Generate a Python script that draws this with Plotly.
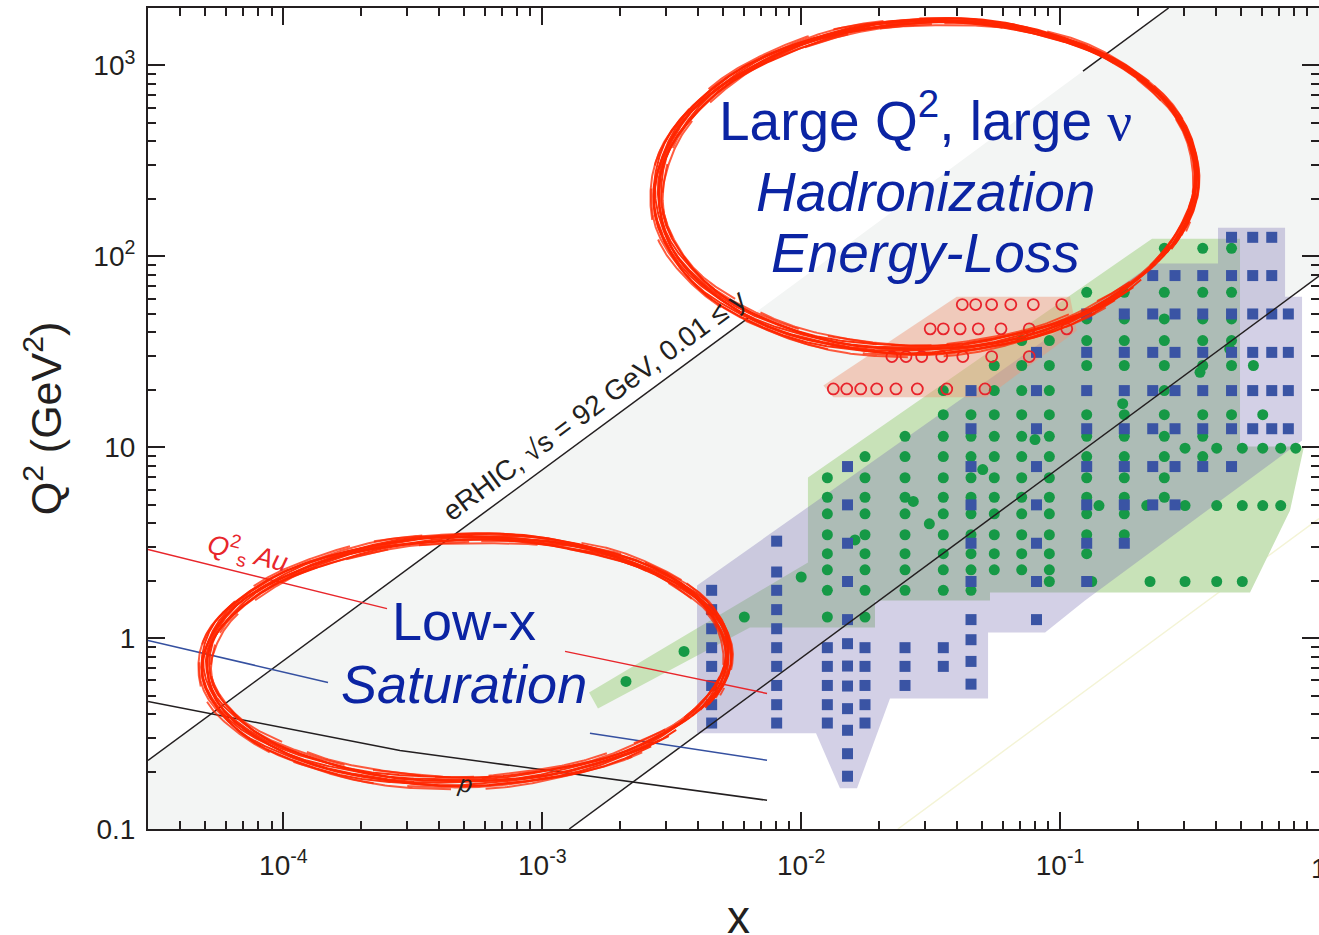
import numpy as np
import plotly.graph_objects as go

FONT = "Liberation Sans, Arial, Helvetica, sans-serif"
AXIS_COLOR = "#231f20"
TEXT_BLUE = "#0b24a3"
BRUSH_RED = "rgb(255,38,0)"

# ---- figure geometry ----
FIG_W, FIG_H = 1319, 935
M_L, M_R, M_T, M_B = 148, 0, 8, 106
X_RANGE = (np.log10(3e-5), 0.0)
Y_RANGE = (-1.0, np.log10(2000.0))
PX_PER_DEC_X = (FIG_W - M_L - M_R) / (X_RANGE[1] - X_RANGE[0])
PX_PER_DEC_Y = (FIG_H - M_T - M_B) / (Y_RANGE[1] - Y_RANGE[0])

# ---- eRHIC kinematic band: Q^2 = x * y * s ----
SQRT_S = 92.0
Y_HI = 0.9
Y_LO = 0.0093
Y_FAINT = 0.0005
X_MIN, X_MAX = 3e-5, 1.0
Q2_MIN, Q2_MAX = 0.1, 2000.0
# stretch of the upper boundary hidden behind the "large Q^2" bubble
X_GAP = (6.23e-3, 0.1226)

# ---- saturation-scale curves ----
QS_AU_X = [3e-5, 1.857e-4, 2.513e-4, None, 1.224e-3, 7.38e-3]
QS_AU_Q2 = [2.913, 1.575, 1.427, None, 0.852, 0.513]
BLUE_X = [3e-5, 1.487e-4, None, 1.528e-3, 7.38e-3]
BLUE_Q2 = [0.972, 0.586, None, 0.317, 0.229]
QS_P_X = [3e-5, 2.82e-4, 7.38e-3]
QS_P_Q2 = [0.466, 0.258, 0.1414]

# ---- blue squares: x bin and the Q^2 values in that bin ----
SQ_X = [0.00451, 0.00804, 0.01262, 0.0151, 0.01764, 0.02518, 0.03539, 0.04528,
        0.08107, 0.1267, 0.177, 0.2279, 0.2779, 0.3556, 0.4594, 0.5546, 0.6569, 0.7613]
SQ_Q2 = [
    [1.78, 1.41, 1.12, 0.891, 0.711, 0.565, 0.448, 0.359],
    [3.22, 2.22, 1.78, 1.41, 1.12, 0.891, 0.711, 0.565, 0.448, 0.359],
    [0.891, 0.711, 0.565, 0.448, 0.359],
    [7.92, 4.99, 3.14, 1.98, 1.25, 0.935, 0.714, 0.561, 0.427, 0.329, 0.248, 0.189],
    [0.891, 0.711, 0.565, 0.448, 0.359],
    [0.891, 0.711, 0.565],
    [0.891, 0.711],
    [19.8, 12.5, 7.92, 4.99, 3.14, 1.98, 1.25, 0.981, 0.755, 0.574],
    [31.4, 19.8, 12.5, 7.92, 4.99, 3.14, 1.98, 1.25],
    [49.9, 31.4, 19.8, 12.5, 7.92, 4.99, 3.14, 1.98],
    [49.9, 31.4, 19.8, 12.5, 7.92, 4.99, 3.14],
    [79.3, 49.9, 31.4, 19.8, 12.5, 7.92, 4.99],
    [79.3, 49.9, 31.4, 19.8, 12.5, 7.92, 4.99],
    [79.3, 49.9, 31.4, 19.8, 12.5, 7.92],
    [125.8, 79.3, 49.9, 31.4, 19.8, 12.5, 7.92],
    [125.8, 79.3, 49.9, 31.4, 19.8, 12.5],
    [125.8, 79.3, 49.9, 31.4, 19.8, 12.5],
    [49.9, 31.4, 19.8, 12.5],
]

# ---- green dots: Q^2 row and the x values in that row ----
DOT_Q2 = [110.1, 64.8, 47.0, 36.2, 32.7, 26.8, 24.7, 19.8, 16.9, 14.8, 11.4, 10.97,
          9.88, 8.94, 7.64, 6.92, 5.47, 5.20, 4.95, 4.48, 3.97, 3.48, 3.27, 2.77,
          2.28, 2.09, 1.98, 1.78, 1.29, 0.852, 0.593]
DOT_X = [
    [0.2527, 0.3556, 0.4594],
    [0.1267, 0.177, 0.2527, 0.3556, 0.4594],
    [0.1267, 0.177, 0.2527, 0.3556, 0.4594],
    [0.07108, 0.09088, 0.1267, 0.177, 0.2527, 0.3556, 0.4594],
    [0.452],
    [0.0557, 0.07108, 0.09088, 0.1267, 0.177, 0.2527, 0.3556, 0.4594, 0.558],
    [0.347],
    [0.03539, 0.0557, 0.07108, 0.09088, 0.2527],
    [0.1745],
    [0.03539, 0.04528, 0.0557, 0.07108, 0.09088, 0.1267, 0.177, 0.2527, 0.3556, 0.4594, 0.6063],
    [0.02518, 0.03539, 0.04528, 0.0557, 0.07108, 0.09088, 0.1267, 0.177, 0.2527, 0.3556],
    [0.08],
    [0.3038, 0.4026, 0.5056, 0.6063, 0.7115, 0.813],
    [0.01764, 0.02518, 0.03539, 0.04528, 0.0557, 0.07108, 0.09088, 0.1267, 0.177, 0.2527, 0.3556],
    [0.05025],
    [0.01262, 0.01764, 0.02518, 0.03539, 0.04528, 0.0557, 0.07108, 0.09088, 0.1267, 0.177, 0.2527],
    [0.01262, 0.01764, 0.02518, 0.03539, 0.04528, 0.0557, 0.07108, 0.09088, 0.1267, 0.177, 0.2527],
    [0.0271],
    [0.1413, 0.2161, 0.3038, 0.4026, 0.5056, 0.6063, 0.7115],
    [0.01262, 0.01764, 0.02518, 0.03539, 0.04528, 0.0557, 0.07108, 0.09088, 0.1267, 0.177],
    [0.03126],
    [0.01262, 0.01764, 0.02518, 0.03539, 0.04528, 0.0557, 0.07108, 0.09088, 0.1267, 0.177],
    [0.01614],
    [0.01262, 0.01764, 0.02518, 0.03539, 0.04528, 0.0557, 0.07108, 0.09088, 0.1267],
    [0.01262, 0.01764, 0.02518, 0.03539, 0.04528, 0.0557, 0.07108, 0.09088],
    [0.01],
    [0.09088, 0.1325, 0.2225, 0.3038, 0.4026, 0.5056],
    [0.01262, 0.01764, 0.02518, 0.03539, 0.04528],
    [0.00603, 0.01262, 0.01764],
    [0.003527],
    [0.002105],
]

# ---- red open circles: Q^2 row and x values ----
CIRC_Q2 = [55.9, 41.7, 29.85, 20.2]
CIRC_X = [
    [0.0419, 0.0472, 0.0544, 0.0645, 0.0788, 0.1015],
    [0.0315, 0.0354, 0.0411, 0.0483, 0.0591, 0.076, 0.1061],
    [0.0224, 0.0254, 0.0292, 0.0349, 0.0421, 0.0544, 0.076],
    [0.01331, 0.01499, 0.01698, 0.01957, 0.02323, 0.02809, 0.03649, 0.05129],
]

# ---- coverage regions ----
PURPLE_X = [3.96e-3, 0.2285, 0.4073, 0.4073, 0.7395, 0.7395, 0.86, 0.86, 0.1248,
            0.0875, 0.0527, 0.0527, 0.02203, 0.01643, 0.01412, 0.01141, 3.96e-3]
PURPLE_Q2 = [1.888, 91.6, 91.6, 141.3, 141.3, 61.5, 61.5, 10.84, 1.576,
             1.071, 1.071, 0.4833, 0.4833, 0.1633, 0.1633, 0.317, 0.317]
GREEN_X = [1.516e-3, 0.01062, 0.01062, 0.2265, 0.4954, 0.4954, 0.875, 0.7727, 0.5415,
           0.0536, 0.0536, 0.01928, 0.01928, 6.34e-3, 1.641e-3]
GREEN_Q2 = [0.5196, 2.49, 6.94, 123.8, 123.8, 10.08, 10.08, 4.66, 1.735,
            1.735, 1.576, 1.576, 1.138, 1.138, 0.4284]
SALMON_X = [0.03988, 0.1092, 0.1159, 0.05207, 0.01331, 0.01218]
SALMON_Q2 = [61.5, 61.5, 40.8, 18.27, 18.27, 21.04]

# ---- highlight bubbles (centre in data units, half sizes in decades) ----
BUBBLE_HI = dict(center=(0.0305, 234.6), half_w=1.041, half_h=0.864, lean=15, base=10.0, swing=5.0)
BUBBLE_LO = dict(center=(5.1e-4, 0.769), half_w=1.010, half_h=0.642, lean=12, base=12.0, swing=3.0)

S = SQRT_S ** 2
c_hi, c_lo, c_faint = Y_HI * S, Y_LO * S, Y_FAINT * S

fig = go.Figure()


def add_line(x, y, color, width=1.5, opacity=1.0):
    fig.add_trace(go.Scatter(x=x, y=y, mode="lines", line=dict(color=color, width=width),
                             opacity=opacity, hoverinfo="skip", connectgaps=False))


def add_fill(x, y, color):
    fig.add_trace(go.Scatter(x=list(x) + [x[0]], y=list(y) + [y[0]], mode="lines",
                             fill="toself", fillcolor=color, line=dict(width=0),
                             hoverinfo="skip"))


# kinematic band between the two y limits
x_top_hi = Q2_MAX / c_hi
band_x = [X_MIN, X_MIN, x_top_hi, X_MAX, X_MAX, Q2_MIN / c_lo]
band_y = [Q2_MIN, c_hi * X_MIN, Q2_MAX, Q2_MAX, c_lo * X_MAX, Q2_MIN]
add_fill(band_x, band_y, "#f3f5f4")

# faint limit line
fx = np.array([Q2_MIN / c_faint, X_MAX])
add_line(fx, c_faint * fx, "#f4f4d6", width=1.5)

# coverage regions
add_fill(GREEN_X, GREEN_Q2, "rgb(200,226,184)")
add_fill(PURPLE_X, PURPLE_Q2, "rgba(118,108,176,0.32)")
add_fill(SALMON_X, SALMON_Q2, "rgba(237,150,118,0.45)")

# markers
gx, gy = [], []
for q, xs in zip(DOT_Q2, DOT_X):
    gx += xs
    gy += [q] * len(xs)
fig.add_trace(go.Scatter(x=gx, y=gy, mode="markers",
                         marker=dict(symbol="circle", size=11, color="#169946", line=dict(width=0)),
                         hoverinfo="skip"))

sx, sy = [], []
for xv, qs in zip(SQ_X, SQ_Q2):
    sx += [xv] * len(qs)
    sy += qs
fig.add_trace(go.Scatter(x=sx, y=sy, mode="markers",
                         marker=dict(symbol="square", size=11, color="#3a54a4", line=dict(width=0)),
                         hoverinfo="skip"))

cx_, cy_ = [], []
for q, xs in zip(CIRC_Q2, CIRC_X):
    cx_ += xs
    cy_ += [q] * len(xs)
fig.add_trace(go.Scatter(x=cx_, y=cy_, mode="markers",
                         marker=dict(symbol="circle-open", size=11, color="#e8232b",
                                     line=dict(width=1.8, color="#e8232b")),
                         hoverinfo="skip"))

# band boundaries
ux = [X_MIN, X_GAP[0], None, X_GAP[1], x_top_hi]
uy = [c_hi * v if v is not None else None for v in ux]
add_line(ux, uy, AXIS_COLOR, width=1.5)
lx = np.array([Q2_MIN / c_lo, X_MAX])
add_line(lx, c_lo * lx, AXIS_COLOR, width=1.5)

# saturation scale curves
add_line(QS_AU_X, QS_AU_Q2, "#e8262b", width=1.5)
add_line(BLUE_X, BLUE_Q2, "#3550a0", width=1.5)
add_line(QS_P_X, QS_P_Q2, AXIS_COLOR, width=1.5)


# hand-drawn highlight bubbles made of several thin bristles
def brush_bubble(center, half_w, half_h, lean, base, swing, start=0.3):
    a = half_w * PX_PER_DEC_X
    b = half_h * PX_PER_DEC_Y
    lx0, ly0 = np.log10(center[0]), np.log10(center[1])
    n = 12
    for k in range(n):
        f = (k + 0.5) / n - 0.5
        t = np.linspace(start + 0.05 * k, start + 2 * np.pi + 0.3 - 0.03 * k, 700)
        ex = a * np.cos(t) - lean * np.sin(t)
        ey = b * np.sin(t)
        nx, ny = b * np.cos(t), a * np.sin(t)
        nn = np.hypot(nx, ny)
        nx, ny = nx / nn, ny / nn
        w = base + swing * np.cos(t - 2.4)
        wob = 0.9 * np.sin(5 * t + 1.7 * k) + 0.5 * np.sin(13 * t + 0.8 * k)
        r = f * w + wob
        xs = 10 ** (lx0 + (ex + r * nx) / PX_PER_DEC_X)
        ys = 10 ** (ly0 - (ey + r * ny) / PX_PER_DEC_Y)
        xs = xs.astype(object)
        ys = ys.astype(object)
        if abs(f) > 0.3:
            # outer bristles break up into scratchy pieces
            gap = np.sin(9 * t + 2.3 * k) + 0.5 * np.sin(23 * t + k) > 0.9
            xs[gap] = None
            ys[gap] = None
        op = 0.95 if abs(f) < 0.3 else 0.75
        add_line(list(xs), list(ys), BRUSH_RED, width=2.0, opacity=op)


brush_bubble(**BUBBLE_HI)
brush_bubble(**BUBBLE_LO)

# ---- text ----
def label(x, y, text, size, color=TEXT_BLUE, angle=0, family=FONT):
    fig.add_annotation(x=np.log10(x), y=np.log10(y), xref="x", yref="y", text=text,
                       showarrow=False, textangle=angle, xanchor="center", yanchor="middle",
                       font=dict(family=family, size=size, color=color))


label(0.03008, 540.0, "Large Q<sup>2</sup>, large <span style='font-family:Liberation Serif'>ν</span>", 55)
label(0.03034, 218.0, "<i>Hadronization</i>", 55)
label(0.03008, 104.0, "<i>Energy-Loss</i>", 55)
label(4.963e-4, 1.223, "Low-x", 54)
label(4.963e-4, 0.572, "<i>Saturation</i>", 54)
label(1.58e-3, 16.6, "eRHIC, √s = 92 GeV, 0.01 ≤ y", 28, color=AXIS_COLOR, angle=-36.4)
label(7.3e-5, 2.777, "<i>Q</i><sup>2</sup><sub>s</sub> <i>Au</i>", 27, color="#e8262b", angle=14)
label(5.03e-4, 0.1735, "<i>p</i>", 24, color=AXIS_COLOR, angle=9)
# the x = 1 tick label sits on the right edge of the page
fig.add_annotation(x=0.0, xref="x", y=0, yref="paper", yshift=-39, text="1", showarrow=False,
                   xanchor="center", yanchor="middle",
                   font=dict(family=FONT, size=28, color=AXIS_COLOR))
# x-axis title, running off the bottom of the page
fig.add_annotation(x=0.504, xref="paper", y=0, yref="paper", yshift=-88, text="x", showarrow=False,
                   xanchor="center", yanchor="middle",
                   font=dict(family=FONT, size=46, color=AXIS_COLOR))

# ---- axes ----
X_TICKS = [1e-4, 1e-3, 1e-2, 1e-1, 1.0]
X_TICKTEXT = ["10<sup>-4</sup>", "10<sup>-3</sup>", "10<sup>-2</sup>", "10<sup>-1</sup>", ""]
Y_TICKS = [0.1, 1, 10, 100, 1000]
Y_TICKTEXT = ["0.1", "1", "10", "10<sup>2</sup>", "10<sup>3</sup>"]
minor_x = [m * 10.0 ** k for k in range(-5, 0) for m in range(2, 10) if X_MIN < m * 10.0 ** k < X_MAX]
minor_y = [m * 10.0 ** k for k in range(-1, 4) for m in range(2, 10) if m * 10.0 ** k < Q2_MAX]

axis_common = dict(type="log", showline=True, linecolor=AXIS_COLOR, linewidth=2, mirror="allticks",
                   ticks="inside", ticklen=17, tickwidth=1.8, tickcolor=AXIS_COLOR,
                   showgrid=False, zeroline=False, automargin=False,
                   tickfont=dict(family=FONT, size=28, color=AXIS_COLOR))

fig.update_xaxes(range=list(X_RANGE), tickvals=X_TICKS, ticktext=X_TICKTEXT,
                 minor=dict(tickmode="array", tickvals=minor_x, ticks="inside", ticklen=8,
                            tickwidth=1.6, tickcolor=AXIS_COLOR, showgrid=False),
                 ticklabelstandoff=10,
                 **axis_common)
fig.update_yaxes(range=list(Y_RANGE), tickvals=Y_TICKS, ticktext=Y_TICKTEXT,
                 minor=dict(tickmode="array", tickvals=minor_y, ticks="inside", ticklen=8,
                            tickwidth=1.6, tickcolor=AXIS_COLOR, showgrid=False),
                 ticklabelstandoff=5,
                 title=dict(text="Q<sup>2</sup> (GeV<sup>2</sup>)",
                            font=dict(family=FONT, size=43, color=AXIS_COLOR), standoff=18),
                 **axis_common)

fig.update_layout(width=FIG_W, height=FIG_H, margin=dict(l=M_L, r=M_R, t=M_T, b=M_B),
                  plot_bgcolor="white", paper_bgcolor="white", showlegend=False,
                  font=dict(family=FONT))

fig.write_html("out.html")
